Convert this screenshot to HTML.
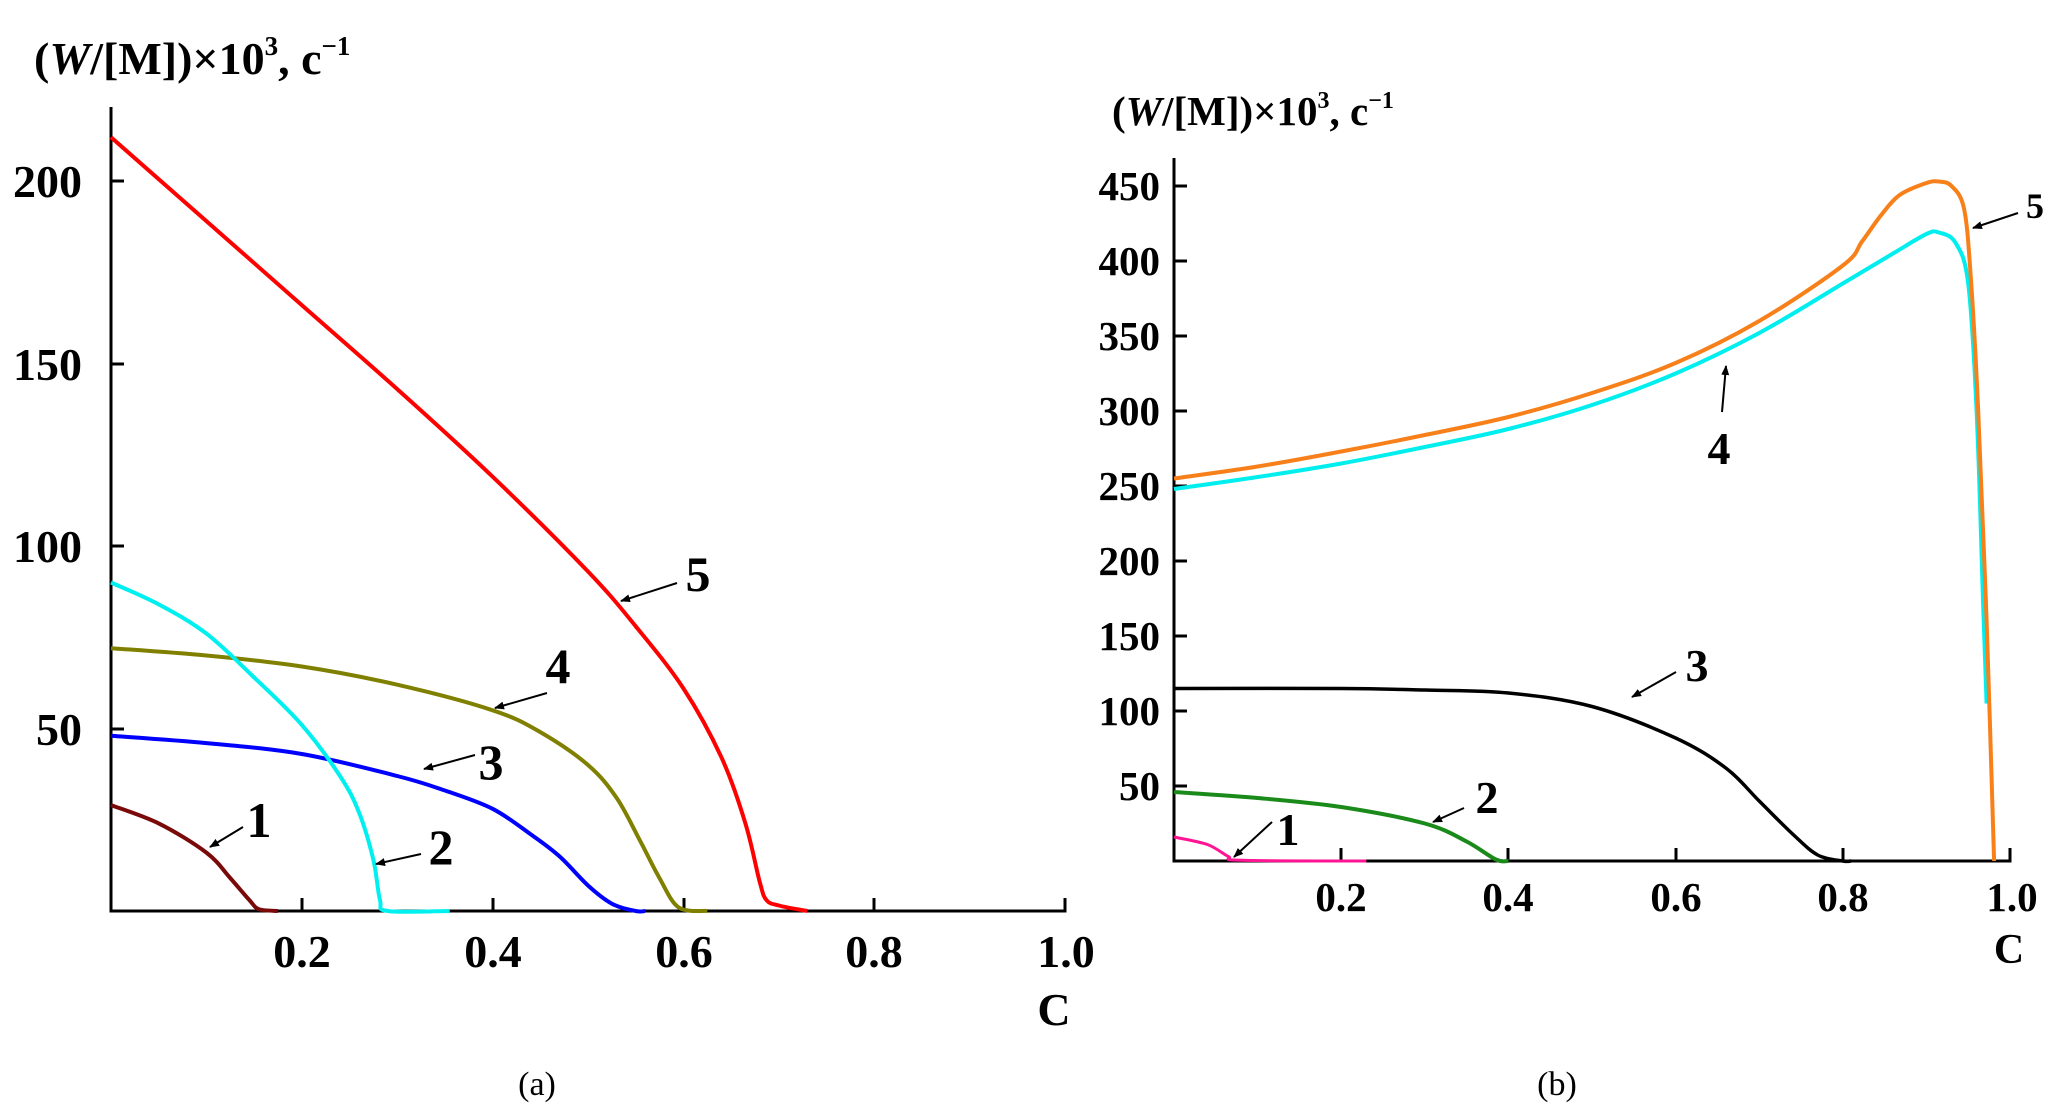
<!DOCTYPE html>
<html><head><meta charset="utf-8"><style>
html,body{margin:0;padding:0;background:#fff}
svg{display:block}
text{font-family:"Liberation Serif",serif;font-weight:bold;fill:#000}
</style></head><body>
<svg id="s" width="2072" height="1111" viewBox="0 0 2072 1111" xmlns="http://www.w3.org/2000/svg">
<defs><marker id="ah" viewBox="0 0 10 10" refX="9" refY="5" markerWidth="5" markerHeight="5" orient="auto"><path d="M0,1 L10,5 L0,9 z" fill="#000"/></marker></defs>
<!-- Left panel -->
<text x="34" y="74" font-size="46">(<tspan font-style="italic">W</tspan>/[M])×10<tspan font-size="27" dy="-19">3</tspan><tspan dy="19">, c</tspan><tspan font-size="27" dy="-19">−1</tspan></text>
<g stroke="#000" stroke-width="3" fill="none">
<path d="M111,107 V911 H1065 V898"/>
<path d="M111,181 h13 M111,364 h13 M111,546 h13 M111,729 h13"/>
<path d="M302,911 v-13 M493,911 v-13 M684,911 v-13 M874,911 v-13"/>
</g>
<g font-size="46" text-anchor="end">
<text x="82" y="197">200</text><text x="82" y="380">150</text><text x="82" y="562">100</text><text x="82" y="745">50</text>
</g>
<g font-size="46" text-anchor="middle">
<text x="302" y="967">0.2</text><text x="493" y="967">0.4</text><text x="684" y="967">0.6</text><text x="874" y="967">0.8</text><text x="1066" y="967">1.0</text>
<text x="1054" y="1025">C</text>
</g>
<text x="537" y="1095" font-size="34" text-anchor="middle" style="font-weight:normal">(a)</text>
<g id="L" fill="none" stroke-width="4" stroke-linejoin="round"></g>
<g font-size="50">
<text x="698" y="591" text-anchor="middle">5</text>
<text x="558" y="683" text-anchor="middle">4</text>
<text x="491" y="779" text-anchor="middle">3</text>
<text x="441" y="864" text-anchor="middle">2</text>
<text x="259" y="837" text-anchor="middle">1</text>
</g>
<g stroke="#000" stroke-width="2" marker-end="url(#ah)">
<line x1="677" y1="583" x2="621" y2="601"/>
<line x1="547" y1="693" x2="495" y2="708"/>
<line x1="475" y1="755" x2="424" y2="769"/>
<line x1="421" y1="854" x2="376" y2="864"/>
<line x1="243" y1="827" x2="210" y2="847"/>
</g>
<!-- Right panel -->
<text x="1112" y="125" font-size="41">(<tspan font-style="italic">W</tspan>/[M])×10<tspan font-size="24" dy="-17">3</tspan><tspan dy="17">, c</tspan><tspan font-size="24" dy="-17">−1</tspan></text>
<g stroke="#000" stroke-width="3" fill="none">
<path d="M1174,158 V861 H2010 V848"/>
<path d="M1174,186 h13 M1174,261 h13 M1174,336 h13 M1174,411 h13 M1174,486 h13 M1174,561 h13 M1174,636 h13 M1174,711 h13 M1174,786 h13"/>
<path d="M1341,861 v-13 M1508,861 v-13 M1676,861 v-13 M1843,861 v-13"/>
</g>
<g font-size="41" text-anchor="end">
<text x="1160" y="200">450</text><text x="1160" y="275">400</text><text x="1160" y="350">350</text><text x="1160" y="425">300</text><text x="1160" y="500">250</text><text x="1160" y="575">200</text><text x="1160" y="650">150</text><text x="1160" y="725">100</text><text x="1160" y="800">50</text>
</g>
<g font-size="41" text-anchor="middle">
<text x="1341" y="911">0.2</text><text x="1508" y="911">0.4</text><text x="1676" y="911">0.6</text><text x="1843" y="911">0.8</text><text x="2012" y="911">1.0</text>
<text x="2009" y="963" font-size="42">C</text>
</g>
<text x="1557" y="1095" font-size="34" text-anchor="middle" style="font-weight:normal">(b)</text>
<g id="R" fill="none" stroke-width="4" stroke-linejoin="round"></g>
<g font-size="46" text-anchor="middle">
<text x="2035" y="218" font-size="36">5</text>
<text x="1719" y="464">4</text>
<text x="1697" y="681">3</text>
<text x="1487" y="813">2</text>
<text x="1288" y="845">1</text>
</g>
<g stroke="#000" stroke-width="2" marker-end="url(#ah)">
<line x1="2018" y1="213" x2="1973" y2="228"/>
<line x1="1722" y1="412" x2="1726" y2="366"/>
<line x1="1676" y1="672" x2="1632" y2="697"/>
<line x1="1464" y1="808" x2="1433" y2="822"/>
<line x1="1272" y1="822" x2="1234" y2="857"/>
</g>
</svg>
<script>
function mk(g,pts,fx,fy,col,w){
 var P=pts.map(function(p){return [fx(p[0]),fy(p[1])]});
 var d='M'+P[0][0].toFixed(1)+','+P[0][1].toFixed(1);
 for(var i=0;i<P.length-1;i++){
  var p0=P[i>0?i-1:i],p1=P[i],p2=P[i+1],p3=P[i+2<P.length?i+2:i+1];
  var c1=[p1[0]+(p2[0]-p0[0])/6,p1[1]+(p2[1]-p0[1])/6];
  var c2=[p2[0]-(p3[0]-p1[0])/6,p2[1]-(p3[1]-p1[1])/6];
  d+=' C'+c1[0].toFixed(1)+','+c1[1].toFixed(1)+' '+c2[0].toFixed(1)+','+c2[1].toFixed(1)+' '+p2[0].toFixed(1)+','+p2[1].toFixed(1);
 }
 var e=document.createElementNS('http://www.w3.org/2000/svg','path');
 e.setAttribute('d',d);e.setAttribute('stroke',col);if(w)e.setAttribute('stroke-width',w);
 document.getElementById(g).appendChild(e);
}
var lx=function(c){return 111+954*c},ly=function(v){return 911-3.65*v};
mk('L',[[0,212],[0.1,189],[0.2,166],[0.3,143],[0.4,119],[0.5,93],[0.55,78],[0.6,61],[0.64,42],[0.665,24],[0.68,8],[0.687,3],[0.7,1.5],[0.73,0]],lx,ly,'#ff0000');
mk('L',[[0,72],[0.1,70],[0.2,67],[0.3,62],[0.4,55],[0.45,49],[0.5,40],[0.53,31],[0.555,19],[0.575,9],[0.595,1],[0.625,0]],lx,ly,'#808000');
mk('L',[[0,48],[0.1,46],[0.2,43],[0.3,37],[0.35,33],[0.4,28],[0.44,21],[0.47,15],[0.5,7],[0.525,2],[0.55,0],[0.56,0]],lx,ly,'#0000ff');
mk('L',[[0,90],[0.05,84],[0.1,76],[0.15,64],[0.2,51],[0.24,37],[0.26,27],[0.275,14],[0.282,3],[0.29,0],[0.355,0]],lx,ly,'#00f0f0');
mk('L',[[0,29],[0.05,24],[0.1,16],[0.125,9],[0.145,3],[0.155,0.5],[0.175,0]],lx,ly,'#7a0a0a');
var rx=function(c){return 1174+836*c},ry=function(v){return 861-1.5*v};
mk('R',[[0,248],[0.1,256],[0.2,265],[0.3,276],[0.4,288],[0.5,304],[0.6,325],[0.7,352],[0.8,385],[0.86,405],[0.9,418],[0.915,419],[0.935,412],[0.95,385],[0.96,300],[0.968,170],[0.972,105]],rx,ry,'#00eeee');
mk('R',[[0,255],[0.1,263],[0.2,273],[0.3,284],[0.4,296],[0.5,312],[0.6,332],[0.7,360],[0.8,397],[0.823,413],[0.845,430],[0.868,444],[0.9,452],[0.915,453],[0.93,450],[0.945,435],[0.953,390],[0.962,300],[0.972,160],[0.981,0]],rx,ry,'#f7801a');
mk('R',[[0,115],[0.2,115],[0.3,114],[0.4,112],[0.5,103],[0.6,82],[0.66,62],[0.7,40],[0.74,18],[0.77,4],[0.8,0],[0.81,0]],rx,ry,'#000000',3.5);
mk('R',[[0,46],[0.1,42],[0.2,36],[0.3,25],[0.35,13],[0.385,1],[0.4,0]],rx,ry,'#1a8a1a');
mk('R',[[0,16],[0.04,11],[0.065,3],[0.08,0.5],[0.23,0]],rx,ry,'#ff1493',3);
</script>
</body></html>
